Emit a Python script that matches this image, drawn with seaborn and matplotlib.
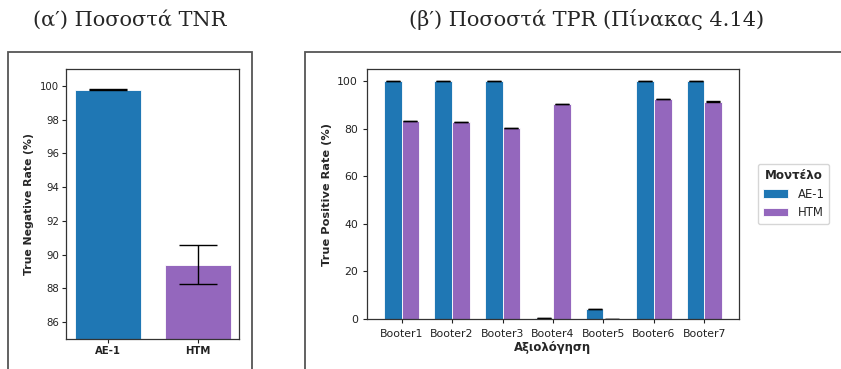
import numpy as np
import pandas as pd
import matplotlib
matplotlib.use("Agg")
import matplotlib.pyplot as plt
import matplotlib.patches as mpatches
import seaborn as sns

# Data
models = ["AE-1", "HTM"]
tnr_values = [99.78, 89.4]
tnr_err = [0.01, 1.15]

booters = ["Booter1", "Booter2", "Booter3", "Booter4", "Booter5", "Booter6", "Booter7"]
tpr_ae1 = [100.0, 100.0, 100.0, 0.3, 4.3, 100.0, 100.0]
tpr_htm = [83.1, 82.6, 80.2, 90.4, 0.0, 92.3, 91.3]
tpr_err_ae1 = [0.05, 0.05, 0.05, 0.05, 0.05, 0.05, 0.05]
tpr_err_htm = [0.05, 0.05, 0.05, 0.05, 0.05, 0.05, 0.05]

colors = {"AE-1": "#1f77b4", "HTM": "#9467bd"}

sns.set_style("white")
plt.rcParams["font.family"] = ["DejaVu Sans"]
plt.rcParams["font.size"] = 7.8

W, H = 841, 369
fig = plt.figure(figsize=(W / 100, H / 100), dpi=100)


def fig_rect(x0, y0, x1, y1):
    # pixel box (top-left origin) -> figure fraction [l, b, w, h]
    return [x0 / W, 1 - y1 / H, (x1 - x0) / W, (y1 - y0) / H]


# subfigure titles
title_font = ["DejaVu Serif"]
fig.text(130 / W, 1 - 20 / H, "(α′) Ποσοστά TNR", ha="center", va="center",
         fontsize=15, family=title_font)
fig.text(587 / W, 1 - 20 / H, "(β′) Ποσοστά TPR (Πίνακας 4.14)", ha="center",
         va="center", fontsize=15, family=title_font)

# gray frames of the embedded images
for x0, x1 in [(8, 252), (305, 860)]:
    fig.patches.append(mpatches.Rectangle((x0 / W, -0.1), (x1 - x0) / W, 1.1 - 52 / H,
                                          transform=fig.transFigure, fill=False,
                                          edgecolor="#555555", linewidth=1.3))

# ---- left: TNR ----
ax1 = fig.add_axes(fig_rect(66, 69, 239, 339))
df_tnr = pd.DataFrame({"model": models, "tnr": tnr_values})
sns.barplot(data=df_tnr, x="model", y="tnr", hue="model", palette=colors,
            saturation=1, errorbar=None, width=0.74, legend=False, ax=ax1,
            edgecolor="white", linewidth=0.6)
xs = [p.get_x() + p.get_width() / 2 for p in ax1.patches]
ax1.errorbar(xs, tnr_values, yerr=tnr_err, fmt="none", ecolor="black",
             capsize=13.5, elinewidth=1, capthick=1)
ax1.set_ylim(85, 101)
ax1.set_xlim(-0.47, 1.46)
ax1.set_yticks([86, 88, 90, 92, 94, 96, 98, 100])
ax1.set_xlabel("")
ax1.set_ylabel("True Negative Rate (%)", fontweight="bold")
ax1.tick_params(labelsize=7.3)
for lbl in ax1.get_xticklabels():
    lbl.set_fontweight("bold")

# ---- right: TPR ----
ax2 = fig.add_axes(fig_rect(367, 69, 739, 319))
df_tpr = pd.DataFrame({
    "booter": booters * 2,
    "model": ["AE-1"] * len(booters) + ["HTM"] * len(booters),
    "tpr": tpr_ae1 + tpr_htm,
})
sns.barplot(data=df_tpr, x="booter", y="tpr", hue="model", palette=colors,
            saturation=1, errorbar=None, width=0.7, ax=ax2,
            edgecolor="white", linewidth=0.6)
bars = [p for p in ax2.patches if p.get_width() > 0][:2 * len(booters)]
bx = [p.get_x() + p.get_width() / 2 for p in bars]
ax2.errorbar(bx, tpr_ae1 + tpr_htm, yerr=tpr_err_ae1 + tpr_err_htm, fmt="none",
             ecolor="black", capsize=5, elinewidth=1, capthick=1)
ax2.set_ylim(0, 105)
ax2.set_xlim(-0.685, 6.685)
ax2.set_xlabel("Αξιολόγηση", fontweight="bold", fontsize=8.4, labelpad=2)
ax2.set_ylabel("True Positive Rate (%)", fontweight="bold", fontsize=8.2)
ax2.tick_params(axis="x", pad=4)
leg = ax2.legend(title="Μοντέλο", loc="center left", bbox_to_anchor=(1.035, 0.5),
                 frameon=True, handlelength=2.2, fontsize=8.4, title_fontsize=8.6,
                 labelspacing=0.5)
leg.get_title().set_fontweight("bold")

for ax in (ax1, ax2):
    for s in ax.spines.values():
        s.set_color("#333333")
        s.set_linewidth(0.9)
    ax.tick_params(axis="both", which="both", length=3, width=0.8,
                   left=True, bottom=True, colors="#222222")
ax1.tick_params(pad=2)

fig.savefig("out.png", dpi=100)
